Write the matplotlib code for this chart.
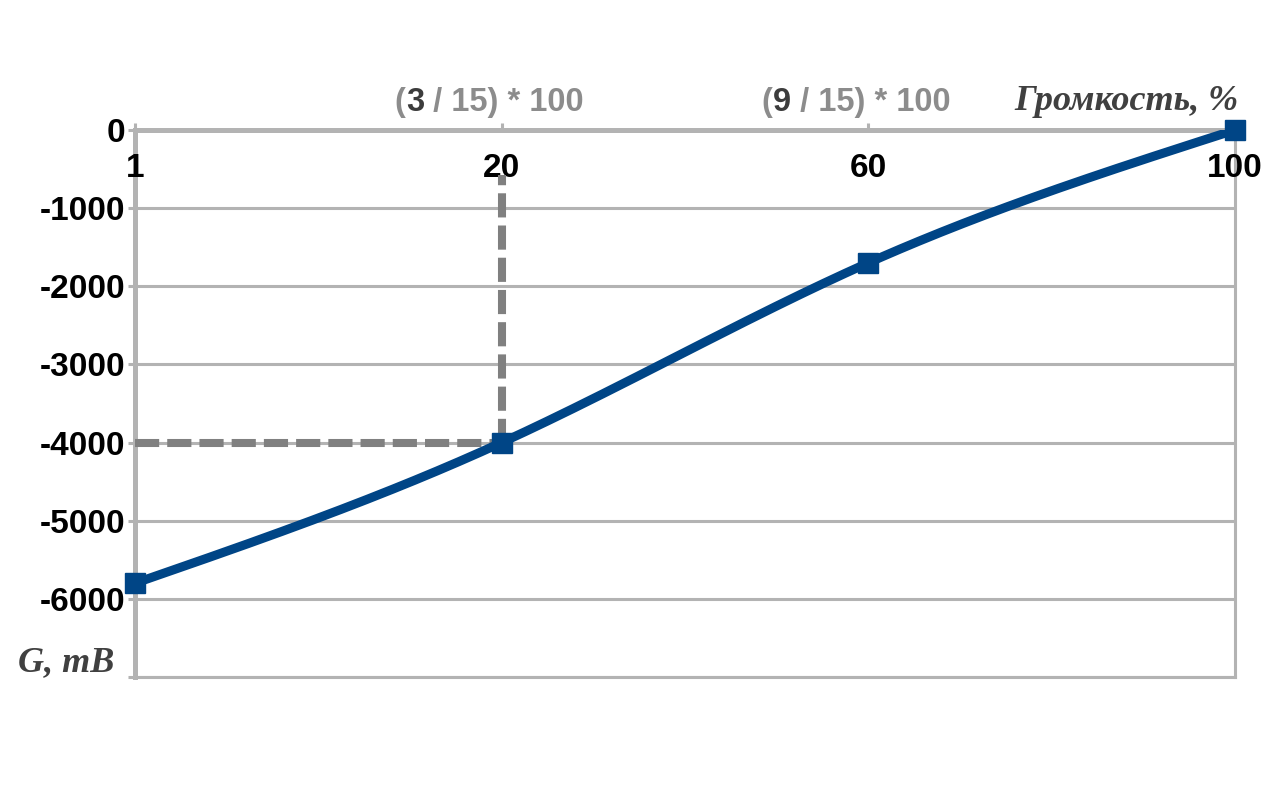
import matplotlib.pyplot as plt
import numpy as np

plt.rcParams["axes.unicode_minus"] = False

# volume, % (category axis) and gain, mB
volume_labels = ["1", "20", "60", "100"]
gain_mb = [-5800, -4000, -1700, 0]
y_ticks = [0, -1000, -2000, -3000, -4000, -5000, -6000, -7000]
y_tick_labels = ["0", "-1000", "-2000", "-3000", "-4000", "-5000", "-6000", ""]
formula_nums = ["3", "9"]

grey = "#b3b3b3"
blue = "#004586"
narrow = ["Liberation Sans Narrow", "Liberation Sans", "DejaVu Sans"]


def natural_spline(xk, yk, n=300):
    # smoothed line like the office chart does it
    xk = np.asarray(xk, float)
    yk = np.asarray(yk, float)
    m = len(xk)
    h = np.diff(xk)
    A = np.zeros((m, m))
    r = np.zeros(m)
    A[0, 0] = A[-1, -1] = 1
    for i in range(1, m - 1):
        A[i, i - 1] = h[i - 1]
        A[i, i] = 2 * (h[i - 1] + h[i])
        A[i, i + 1] = h[i]
        r[i] = 6 * ((yk[i + 1] - yk[i]) / h[i] - (yk[i] - yk[i - 1]) / h[i - 1])
    M = np.linalg.solve(A, r)
    xs = np.linspace(xk[0], xk[-1], n)
    idx = np.clip(np.searchsorted(xk, xs) - 1, 0, m - 2)
    x0, x1 = xk[idx], xk[idx + 1]
    hh = x1 - x0
    t0, t1 = x1 - xs, xs - x0
    ys = (M[idx] * t0 ** 3 + M[idx + 1] * t1 ** 3) / (6 * hh) \
        + (yk[idx] / hh - M[idx] * hh / 6) * t0 \
        + (yk[idx + 1] / hh - M[idx + 1] * hh / 6) * t1
    return xs, ys


pos = np.arange(len(volume_labels))

fig = plt.figure(figsize=(12.8, 8), dpi=100)
ax = fig.add_axes([135 / 1280, 1 - 677 / 800, 1100 / 1280, 547 / 800])

ax.set_xlim(pos[0], pos[-1])
ax.set_ylim(-7000, 0)
ax.set_yticks(y_ticks)
ax.set_yticklabels(y_tick_labels)
ax.yaxis.grid(True, color=grey, lw=2.2)
ax.set_axisbelow(True)

for s in ["top", "left"]:
    ax.spines[s].set_color(grey)
    ax.spines[s].set_linewidth(3.6)
for s in ["bottom", "right"]:
    ax.spines[s].set_color(grey)
    ax.spines[s].set_linewidth(2.2)
for s in ax.spines.values():
    s.set_zorder(0.4)

ax.tick_params(axis="y", colors=grey, length=5, width=2.2, pad=2)
for lab in ax.get_yticklabels():
    lab.set_color("black")
    lab.set_fontsize(24)
    lab.set_fontweight("bold")
    lab.set_family(narrow)

ax.set_xticks(pos)
ax.set_xticklabels(volume_labels)
ax.tick_params(axis="x", bottom=False, labelbottom=False, top=True, labeltop=True,
               colors=grey, length=5, width=2.2, pad=-44)
for lab in ax.get_xticklabels():
    lab.set_color("black")
    lab.set_fontsize(24)
    lab.set_fontweight("bold")
    lab.set_family(narrow)

# dashed helper lines to the 20% point
ax.plot([pos[0], pos[1]], [gain_mb[1], gain_mb[1]], color="#808080", lw=5.8,
        dashes=(3, 1), zorder=3)
ax.plot([pos[1], pos[1]], [gain_mb[1], -576], color="#808080", lw=5.8,
        dashes=(3, 1), zorder=3)

xs, ys = natural_spline(pos, gain_mb)
ax.plot(xs, ys, color=blue, lw=6.5, zorder=4, solid_capstyle="butt")
ax.plot(pos, gain_mb, ls="none", marker="s", ms=14, color=blue, zorder=5, clip_on=False)

# formula labels above the axis, the numerator drawn darker
fkw = dict(fontsize=23.5, fontweight="bold", family="Liberation Sans")
renderer = fig.canvas.get_renderer()
for p, num in zip(pos[1:3], formula_nums):
    pieces = [("(", "#8c8c8c"), (num, "#3c3c3c"), (" / 15) * 100", "#8c8c8c")]
    widths = []
    for s, c in pieces:
        probe = ax.text(0, 0, s, ha="left", va="baseline", **fkw)
        widths.append(probe.get_window_extent(renderer).width * 72 / fig.dpi)
        probe.remove()
    x_off = -sum(widths) / 2 - 9
    for (s, c), w in zip(pieces, widths):
        ax.annotate(s, xy=(p, 0), xytext=(x_off, 14), textcoords="offset points",
                    ha="left", va="baseline", color=c, **fkw)
        x_off += w

ax.text(1.003, 1.022, "Громкость, %", transform=ax.transAxes, ha="right", va="bottom",
        fontsize=26, fontstyle="italic", fontweight="bold", color="#404040",
        family="Liberation Serif")
fig.text(18 / 1280, 1 - 663 / 800, "G, mB", ha="left", va="center",
         fontsize=26, fontstyle="italic", fontweight="bold", color="#404040",
         family="Liberation Serif")

fig.savefig("out.png", dpi=100)
